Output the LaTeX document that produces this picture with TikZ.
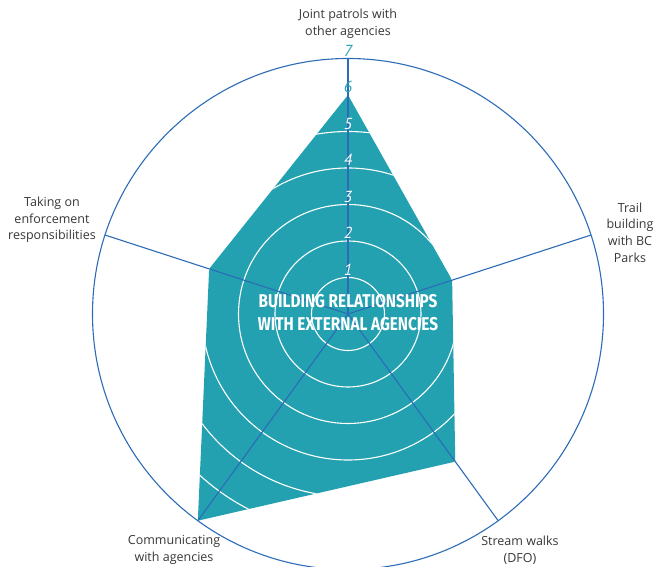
\documentclass[tikz,border=0pt]{standalone}
\usepackage{fontspec}
\setmainfont{Open Sans}
\newfontfamily\numfont{PT Sans}
\newfontfamily\titlefont[FakeStretch=0.83]{Fira Sans}
\usetikzlibrary{calc}
\definecolor{tealfill}{RGB}{35,161,176}
\definecolor{tealtext}{RGB}{42,163,182}
\definecolor{spokeblue}{RGB}{44,108,183}
\definecolor{labelgray}{RGB}{55,55,55}
\tikzset{
  spoke/.style={draw=spokeblue,line width=1.1pt},
  ring/.style={draw=white,line width=1.1pt},
  axislabel/.style={align=center,text=labelgray,font=\fontsize{12.5}{16.7}\selectfont,inner sep=0pt},
  numlabel/.style={anchor=base,inner sep=0pt,font=\numfont\fontsize{16}{16}\selectfont\itshape},
  title/.style={align=center,text=white,font=\titlefont\bfseries\fontsize{18.5}{23}\selectfont,inner sep=0pt}
}
\begin{document}
\begin{tikzpicture}[x=1pt,y=1pt]
\useasboundingbox (0,0) rectangle (658,567);
\def\u{36.5}
\coordinate (O) at (348,253);
% axis ends
\coordinate (A1) at ($(O)+(90:7*\u)$);
\coordinate (A2) at ($(O)+(18:7*\u)$);
\coordinate (A3) at ($(O)+(-54:7*\u)$);
\coordinate (A4) at ($(O)+(-126:7*\u)$);
\coordinate (A5) at ($(O)+(162:7*\u)$);
% data vertices
\coordinate (P1) at ($(O)+(90:6*\u)$);
\coordinate (P2) at ($(O)+(18:3*\u)$);
\coordinate (P3) at ($(O)+(-54:5*\u)$);
\coordinate (P4) at ($(O)+(-126:7*\u)$);
\coordinate (P5) at ($(O)+(162:4*\u)$);
% polygon
\fill[tealfill] (P1) -- (P2) -- (P3) -- (P4) -- (P5) -- cycle;
\begin{scope}
  \clip (P1) -- (P2) -- (P3) -- (P4) -- (P5) -- cycle;
  \foreach \k in {1,...,6} \draw[ring] (O) circle ({\k*\u});
\end{scope}
% outer circle
\draw[spoke] (O) circle (7*\u);
% spokes
\foreach \a in {A1,A2,A3,A4,A5} \draw[spoke] (O) -- (\a);
% scale numbers
\foreach \k in {1,...,5}
  \node[numlabel,text=white] (n\k) at ($(O)+(0,{\k*\u+2})$) {\k};
\node[numlabel,text=tealtext] (n6) at ($(O)+(0,{6*\u+2})$) {6};
\node[numlabel,text=tealtext] (n7) at ($(O)+(0,{7*\u+1.5})$) {7};
% title
\node[title] (t) at (348,254) {BUILDING RELATIONSHIPS\\WITH EXTERNAL AGENCIES};
% axis labels
\node[axislabel] (L1) at (348,543) {Joint patrols with\\other agencies};
\node[axislabel] (L2) at (630,334.5) {Trail\\building\\with BC\\Parks};
\node[axislabel] (L3) at (52,347) {Taking on\\enforcement\\responsibilities};
\node[axislabel] (L4) at (174,17) {Communicating\\with agencies};
\node[axislabel] (L5) at (520,17) {Stream walks\\(DFO)};
\end{tikzpicture}
\end{document}
